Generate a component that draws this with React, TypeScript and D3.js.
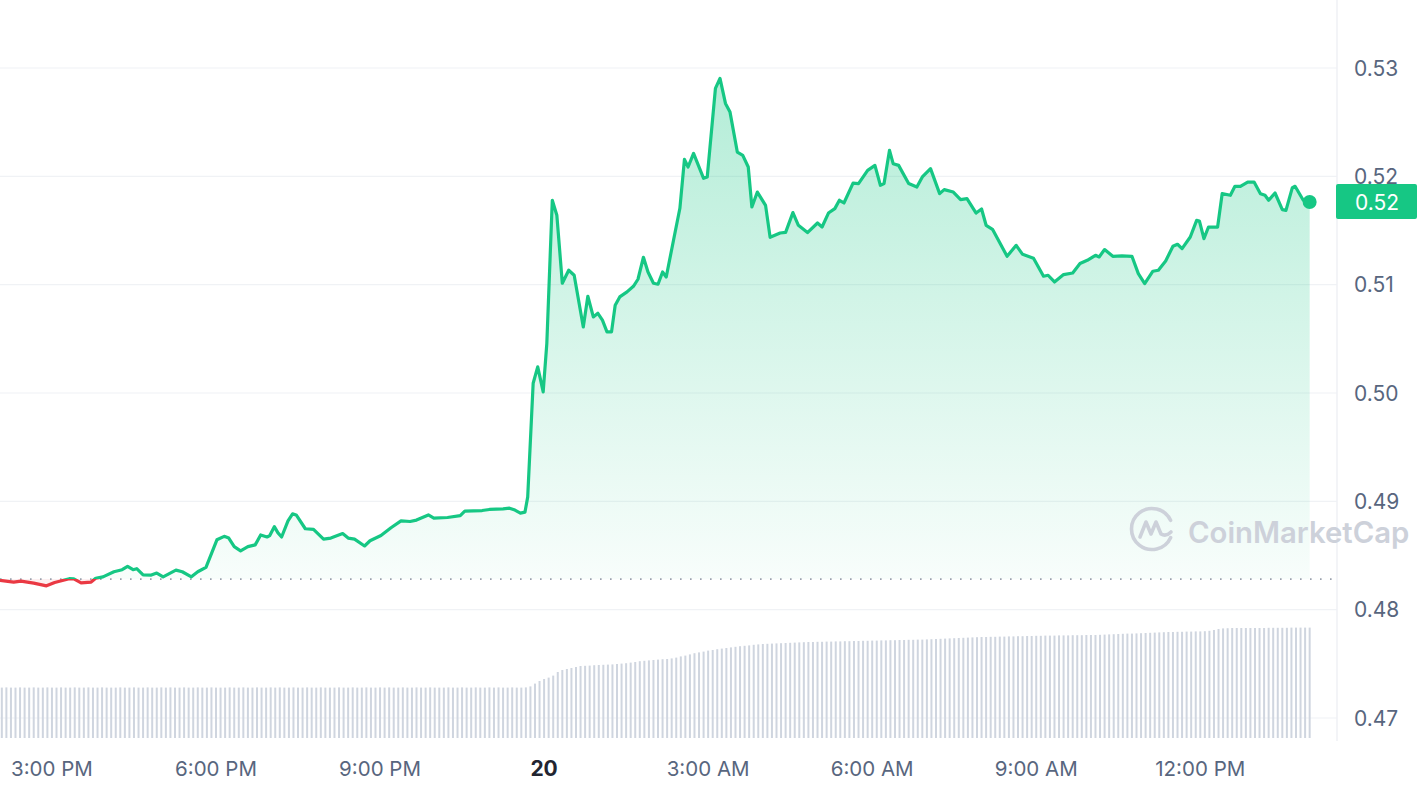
import React from "react";
import * as d3 from "d3";

// ---------- DATA ----------
// minutes after 2:00 PM on the 19th
const priceMinutes: number[] = [
  3, 18, 26, 40, 54, 63, 79, 84, 92, 103, 108, 116, 128, 137, 143, 149, 153, 160, 169, 175,
  182, 196, 203, 213, 220, 229, 241, 249, 254, 260, 267, 275, 283, 289, 296, 299, 304, 308, 312, 319,
  324, 328, 338, 347, 358, 366, 379, 385, 392, 403, 409, 421, 432, 443, 453, 460, 473, 479, 494, 508,
  513, 532, 540, 555, 562, 568, 574, 579, 582, 588, 593, 599, 603, 609, 614, 620, 627, 633, 643, 648,
  654, 659, 664, 669, 674, 678, 683, 691, 698, 703, 709, 714, 720, 725, 730, 734, 742, 749, 754, 758,
  764, 775, 779, 788, 793, 799, 804, 812, 818, 824, 828, 834, 843, 848, 859, 865, 873, 879, 889, 900,
  905, 912, 919, 924, 929, 939, 945, 955, 963, 969, 973, 979, 983, 989, 1000, 1009, 1015, 1024, 1034, 1039,
  1049, 1057, 1064, 1074, 1080, 1085, 1092, 1108, 1118, 1125, 1137, 1148, 1153, 1160, 1170, 1180, 1188, 1196, 1205, 1209,
  1215, 1224, 1234, 1245, 1252, 1259, 1268, 1274, 1282, 1290, 1295, 1300, 1309, 1316, 1319, 1324, 1329, 1339, 1344, 1353,
  1358, 1364, 1372, 1379, 1386, 1391, 1395, 1402, 1410, 1414, 1421, 1424, 1433, 1440,
];
const priceValues: number[] = [
  0.4827, 0.48255, 0.48264, 0.48245, 0.4822, 0.48251, 0.48286, 0.48285, 0.48248, 0.48255, 0.4829, 0.48303, 0.4835, 0.48369, 0.484, 0.48369, 0.48378, 0.48321, 0.48319, 0.48338,
  0.48303, 0.48365, 0.4835, 0.48303, 0.4835, 0.48391, 0.48645, 0.48677, 0.48661, 0.48582, 0.48543, 0.48582, 0.48598, 0.4869, 0.48671, 0.48684, 0.48766, 0.48709, 0.48671, 0.4882,
  0.48884, 0.48874, 0.48747, 0.48741, 0.48651, 0.48661, 0.48702, 0.48661, 0.48651, 0.48588, 0.48636, 0.48684, 0.48756, 0.4882, 0.48814, 0.48827, 0.48874, 0.48845, 0.48851, 0.48868,
  0.4891, 0.48915, 0.48925, 0.48931, 0.48937, 0.48919, 0.48891, 0.489, 0.49039, 0.5009, 0.50241, 0.5001, 0.50459, 0.51779, 0.5164, 0.51013, 0.51133, 0.51087, 0.5061, 0.50893,
  0.50702, 0.50736, 0.50672, 0.50564, 0.50564, 0.5081, 0.50887, 0.50933, 0.50985, 0.5105, 0.51253, 0.51117, 0.51013, 0.51004, 0.51117, 0.51071, 0.5141, 0.51705, 0.52157, 0.52086,
  0.52212, 0.51982, 0.51994, 0.52812, 0.52904, 0.52673, 0.52593, 0.52224, 0.52194, 0.52086, 0.51717, 0.51855, 0.51732, 0.51437, 0.51477, 0.51483, 0.51665, 0.51548, 0.51481, 0.51569,
  0.51532, 0.51661, 0.51702, 0.51779, 0.51754, 0.51938, 0.51933, 0.52055, 0.52101, 0.51917, 0.51933, 0.5224, 0.52117, 0.52101, 0.51933, 0.51901, 0.51994, 0.52071, 0.5184, 0.51877,
  0.51855, 0.51785, 0.51794, 0.51661, 0.51698, 0.51548, 0.51511, 0.51262, 0.51363, 0.5128, 0.51244, 0.51078, 0.51087, 0.51025, 0.51093, 0.51108, 0.51195, 0.51225, 0.51271, 0.51256,
  0.51324, 0.51262, 0.51265, 0.51262, 0.51102, 0.5101, 0.51124, 0.51133, 0.51219, 0.51354, 0.51373, 0.51333, 0.5144, 0.51594, 0.51588, 0.51425, 0.51532, 0.51532, 0.5184, 0.51825,
  0.51908, 0.51908, 0.51947, 0.51947, 0.5184, 0.51825, 0.51779, 0.51846, 0.51693, 0.51686, 0.51896, 0.51908, 0.51779, 0.51763,
];
const openPrice = 0.48282;
const lastPriceLabel = "0.52";

// 5-minute volume bars (arbitrary units), one row per hour starting 2:00 PM
const volumeValues: number[] = [
  252, 253, 252, 252, 253, 252, 252, 253, 252, 252, 253, 252,
  252, 253, 252, 252, 253, 252, 252, 253, 252, 252, 253, 252,
  252, 252, 253, 252, 252, 253, 252, 252, 253, 252, 252, 253,
  252, 253, 252, 252, 253, 252, 252, 253, 252, 252, 253, 252,
  252, 252, 253, 252, 252, 253, 252, 252, 253, 252, 252, 253,
  252, 253, 252, 252, 253, 252, 252, 253, 252, 252, 253, 252,
  252, 252, 253, 252, 252, 253, 252, 252, 253, 252, 252, 253,
  252, 253, 252, 252, 253, 252, 252, 253, 252, 252, 253, 252,
  252, 252, 253, 252, 252, 253, 252, 252, 253, 252, 252, 253,
  252, 253, 252, 252, 253, 252, 252, 253, 258, 272, 285, 295,
  302, 312, 330, 340, 345, 350, 355, 360, 361, 362, 364, 365,
  366, 367, 368, 370, 372, 374, 377, 380, 384, 386, 388, 390,
  392, 394, 395, 398, 402, 408, 412, 418, 424, 428, 432, 437,
  440, 444, 447, 450, 453, 456, 459, 461, 463, 466, 468, 470,
  471, 472, 473, 474, 475, 476, 477, 478, 479, 480, 480, 481,
  481, 482, 482, 483, 483, 484, 484, 485, 485, 486, 486, 487,
  487, 488, 488, 489, 489, 490, 490, 491, 491, 492, 492, 493,
  494, 495, 496, 497, 498, 499, 500, 501, 502, 503, 504, 505,
  505, 506, 506, 507, 507, 508, 508, 509, 509, 510, 510, 511,
  511, 512, 512, 512, 513, 513, 513, 514, 514, 514, 515, 515,
  515, 516, 517, 518, 519, 520, 521, 522, 522, 523, 524, 525,
  526, 527, 528, 529, 530, 530, 531, 531, 532, 532, 533, 533,
  534, 536, 540, 545, 548, 549, 550, 550, 550, 550, 550, 550,
  550, 550, 551, 551, 551, 551, 551, 552, 552, 552, 552, 552,
];
const volumeStepMinutes = 5;

const yTickValues: number[] = [0.47, 0.48, 0.49, 0.5, 0.51, 0.52, 0.53];

// ---------- LAYOUT ----------
const W = 1420;
const H = 792;
const plotRight = 1337;
const BASE = new Date(2024, 5, 19, 14, 0, 0).getTime();
const toDate = (m: number) => new Date(BASE + m * 60000);

const GREEN = "#16c784";
const RED = "#ea3943";
const FONT = "Inter, 'Noto Sans', Roboto, sans-serif";

export default function App() {
  const x = d3.scaleTime().domain([toDate(3), toDate(1470)]).range([0, plotRight]);
  const y = d3.scaleLinear().domain([0.47, 0.53]).range([718, 68]);
  const yVol = d3.scaleLinear().domain([0, 550]).range([738, 628]);

  const pts = priceMinutes.map((m, i) => ({ d: toDate(m), v: priceValues[i] }));
  const line = d3
    .line<{ d: Date; v: number }>()
    .x((p) => x(p.d))
    .y((p) => y(p.v));
  const area = d3
    .area<{ d: Date; v: number }>()
    .x((p) => x(p.d))
    .y0(y(openPrice))
    .y1((p) => y(p.v));

  const baseY = y(openPrice);
  const last = pts[pts.length - 1];
  const xTicks = x.ticks(d3.timeHour.every(3) as d3.TimeInterval);
  const fmt = d3.timeFormat("%-I:%M %p");

  const cx = 1152;
  const cy = 529;
  const r = 20.5;
  const a0 = (25 * Math.PI) / 180;
  const a1 = (-25 * Math.PI) / 180;
  const logoArc = `M${cx + r * Math.cos(a0)},${cy + r * Math.sin(a0)} A${r},${r} 0 1 1 ${cx + r * Math.cos(a1)},${cy + r * Math.sin(a1)}`;
  const logoM = `M${cx - 12},${cy + 8} L${cx - 6},${cy - 7} L${cx - 1},${cy + 5} L${cx + 4},${cy - 7} L${cx + 9},${cy + 5} Q${cx + 14},${cy + 8} ${cx + 19},${cy + 3}`;

  const fillTop = y(0.53);
  const fillEnd = baseY + 30;
  const splitOff = (baseY - fillTop) / (fillEnd - fillTop);

  return (
    <svg
      width={W}
      height={H}
      style={{ position: "absolute", left: 0, top: 0, background: "#fff" }}
      fontFamily={FONT}
    >
      <defs>
        <linearGradient id="lineGrad" gradientUnits="userSpaceOnUse" x1="0" y1="0" x2="0" y2={H}>
          <stop offset={baseY / H} stopColor={GREEN} />
          <stop offset={baseY / H} stopColor={RED} />
        </linearGradient>
        <linearGradient id="areaGrad" gradientUnits="userSpaceOnUse" x1="0" y1={fillTop} x2="0" y2={fillEnd}>
          <stop offset="0" stopColor={GREEN} stopOpacity={0.33} />
          <stop offset={splitOff} stopColor={GREEN} stopOpacity={0.03} />
          <stop offset={splitOff} stopColor={RED} stopOpacity={0.08} />
          <stop offset="1" stopColor={RED} stopOpacity={0.08} />
        </linearGradient>
      </defs>

      {/* grid */}
      {yTickValues.map((t) => (
        <line key={t} x1={0} x2={plotRight} y1={y(t)} y2={y(t)} stroke="#f0f2f5" strokeWidth={1.2} />
      ))}
      <line x1={plotRight} x2={plotRight} y1={0} y2={741} stroke="#eff1f4" strokeWidth={1.5} />

      {/* volume */}
      {volumeValues.map((v, i) => {
        const xx = x(toDate(volumeStepMinutes * (i + 1)));
        return (
          <rect key={i} x={xx - 1} width={2} y={yVol(v)} height={yVol(0) - yVol(v)} fill="#cfd5df" />
        );
      })}

      {/* area + line */}
      <path d={area(pts) ?? ""} fill="url(#areaGrad)" />
      <line
        x1={0}
        x2={plotRight}
        y1={baseY}
        y2={baseY}
        stroke="#9aa1ad"
        strokeWidth={1.6}
        strokeDasharray="1.6 8.4"
      />
      <path
        d={line(pts) ?? ""}
        fill="none"
        stroke="url(#lineGrad)"
        strokeWidth={3.2}
        strokeLinejoin="round"
        strokeLinecap="round"
      />
      <circle cx={x(last.d)} cy={y(last.v)} r={7} fill={GREEN} />

      {/* watermark */}
      <g>
        <path d={logoArc} fill="none" stroke="#cdd1da" strokeWidth={3.6} strokeLinecap="round" />
        <path d={logoM} fill="none" stroke="#cdd1da" strokeWidth={3.6} strokeLinecap="round" strokeLinejoin="round" />
        <text x={1188} y={543} fontSize={29.3} fontWeight={600} fill="#cdd1da">
          CoinMarketCap
        </text>
      </g>

      {/* y axis labels */}
      {yTickValues.map((t) => (
        <text key={t} x={1354} y={y(t) + 7.5} fontSize={21} fill="#58667e">
          {d3.format(".2f")(t)}
        </text>
      ))}

      {/* last price tag */}
      <rect x={1336} y={184} width={81} height={35} rx={2} fill={GREEN} />
      <text x={1355} y={y(last.v) + 7.5} fontSize={21} fill="#ffffff">
        {lastPriceLabel}
      </text>

      {/* x axis labels */}
      {xTicks.map((t) => {
        const mid = t.getHours() === 0;
        return (
          <text
            key={t.getTime()}
            x={x(t)}
            y={776}
            textAnchor="middle"
            fontSize={mid ? 21 : 20.5}
            fontWeight={mid ? 700 : 400}
            fill={mid ? "#222531" : "#58667e"}
          >
            {mid ? String(t.getDate()) : fmt(t)}
          </text>
        );
      })}
    </svg>
  );
}
